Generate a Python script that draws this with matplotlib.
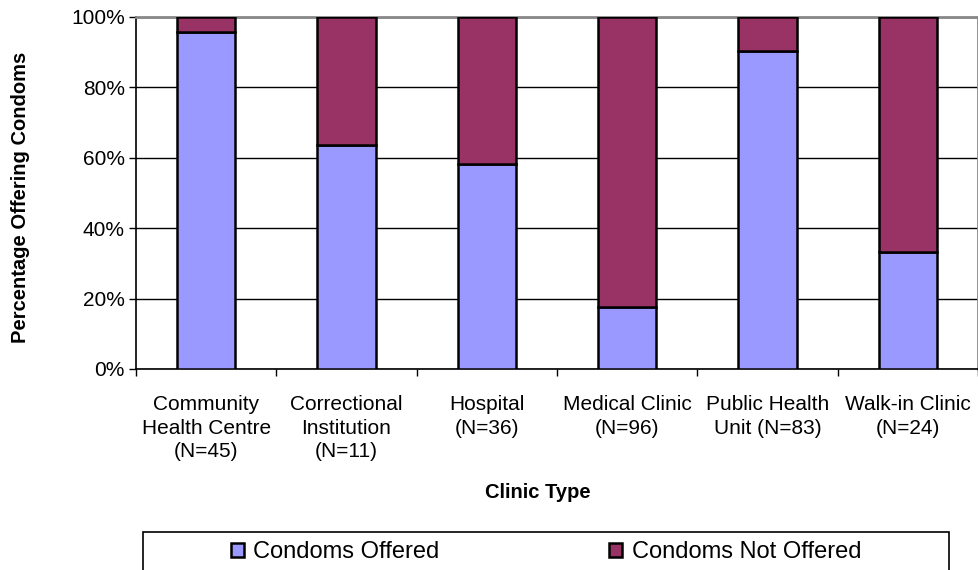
import matplotlib.pyplot as plt
import numpy as np
from matplotlib.patches import Rectangle
from matplotlib.ticker import FixedLocator, PercentFormatter

plt.rcParams['font.family'] = ['Liberation Sans', 'DejaVu Sans']

clinics = ["Community\nHealth Centre\n(N=45)", "Correctional\nInstitution\n(N=11)",
           "Hospital\n(N=36)", "Medical Clinic\n(N=96)", "Public Health\nUnit (N=83)",
           "Walk-in Clinic\n(N=24)"]
offered = [95.6, 63.6, 58.3, 17.7, 90.4, 33.3]
not_offered = [100 - v for v in offered]

W, H = 979, 570
fig = plt.figure(figsize=(W / 100, H / 100), dpi=100)
ax = fig.add_axes([136 / W, 1 - 369 / H, (978 - 136) / W, (369 - 17) / H])

x = np.arange(len(clinics))
ax.bar(x, offered, width=0.415, color="#9999FF", edgecolor="black", linewidth=1.8,
       label="Condoms Offered", zorder=3)
ax.bar(x, not_offered, bottom=offered, width=0.415, color="#993366", edgecolor="black",
       linewidth=1.8, label="Condoms Not Offered", zorder=3)

ax.set_xlim(-0.5, len(clinics) - 0.5)
ax.set_ylim(0, 100)
ax.set_yticks(np.arange(0, 101, 20))
ax.yaxis.set_major_formatter(PercentFormatter(decimals=0))
ax.yaxis.grid(True, color="black", linewidth=1)
ax.set_axisbelow(True)

# ticks sit between categories, labels at the centres
ax.xaxis.set_major_locator(FixedLocator(np.arange(-0.5, len(clinics), 1.0)))
ax.xaxis.set_minor_locator(FixedLocator(x))
ax.set_xticklabels([], minor=False)
ax.set_xticklabels(clinics, minor=True, fontsize=15, linespacing=1.3)
ax.tick_params(axis="x", which="major", length=5, width=1)
ax.tick_params(axis="x", which="minor", length=0, pad=19)
ax.tick_params(axis="y", length=5, width=1, labelsize=15, pad=3)

for s in ["top", "right"]:
    ax.spines[s].set_color("#888888")
    ax.spines[s].set_linewidth(2)
for s in ["left", "bottom"]:
    ax.spines[s].set_color("black")
    ax.spines[s].set_linewidth(1.2)

fig.text(538 / W, 1 - 492 / H, "Clinic Type", ha="center", va="center",
         fontsize=14.5, fontweight="bold")
fig.text(21 / W, 1 - 197 / H, "Percentage Offering Condoms", ha="center", va="center",
         rotation=90, fontsize=14.5, fontweight="bold")

# legend frame runs off the bottom of the figure
fig.patches.append(Rectangle((143 / W, -0.05), (949 - 143) / W, 1 - 532 / H + 0.05,
                             transform=fig.transFigure, facecolor="white",
                             edgecolor="black", linewidth=1.2))
fig.legend(loc="center", bbox_to_anchor=(546 / W, 1 - 552 / H), ncol=2, frameon=False,
           fontsize=17, handlelength=0.55, handleheight=0.55, handletextpad=0.4,
           columnspacing=7.2)

fig.savefig("out.png", dpi=100)
